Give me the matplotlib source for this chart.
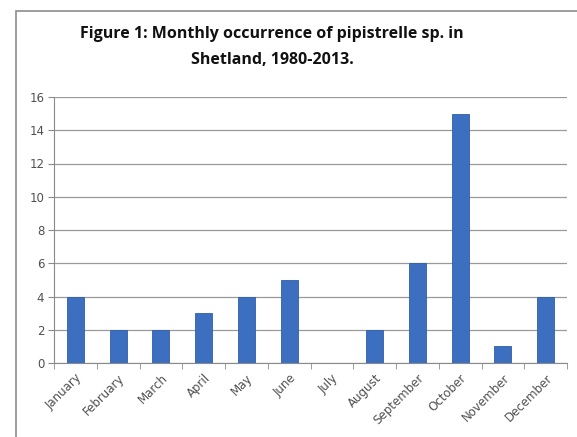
import matplotlib.pyplot as plt
from matplotlib.patches import Rectangle
import numpy as np

months = ['January', 'February', 'March', 'April', 'May', 'June', 'July',
          'August', 'September', 'October', 'November', 'December']
counts = [4, 2, 2, 3, 4, 5, 0, 2, 6, 15, 1, 4]
yticks = [0, 2, 4, 6, 8, 10, 12, 14, 16]

fig = plt.figure(figsize=(5.77, 4.37), dpi=100)
W, H = 577, 437

# outer chart frame (runs off the right/bottom edges)
fig.patches.append(Rectangle((16 / W, -0.1), 1.0, 1 - 11 / H + 0.1,
                             transform=fig.transFigure, fill=False,
                             edgecolor='#8c8c8c', lw=1.2))

ax = fig.add_axes([54 / W, 1 - 363 / H, (567 - 54) / W, (363 - 97) / H])
x = np.arange(len(months))
ax.bar(x, counts, width=0.4, color='#3c6fc0', edgecolor='#2f5fa8', lw=0.6, zorder=3)

ax.set_xlim(-0.5, 11.5)
ax.set_ylim(0, 16)
ax.set_yticks(yticks)
ax.set_yticklabels([str(v) for v in yticks], fontsize=8.5, color='#505050')
ax.yaxis.grid(True, color='#999999', lw=0.9, zorder=0)

ax.set_xticks(x)
ax.set_xticklabels(months, rotation=45, ha='right', rotation_mode='anchor',
                   fontsize=8.5, color='#505050')
ax.set_xticks(np.arange(-0.5, 12, 1), minor=True)
ax.tick_params(axis='x', which='major', length=0, pad=6)
ax.tick_params(axis='x', which='minor', length=4, color='#8a8a8a')
ax.tick_params(axis='y', length=4, color='#8a8a8a', pad=3)

for s in ['top', 'right']:
    ax.spines[s].set_visible(False)
for s in ['left', 'bottom']:
    ax.spines[s].set_color('#8a8a8a')

fig.text(272 / W, 1 - 47 / H,
         'Figure 1: Monthly occurrence of pipistrelle sp. in\nShetland, 1980-2013.',
         ha='center', va='center', fontsize=11.5, fontweight='bold',
         family='Open Sans', linespacing=1.75, color='#111111')

fig.savefig('out.png', dpi=100)
